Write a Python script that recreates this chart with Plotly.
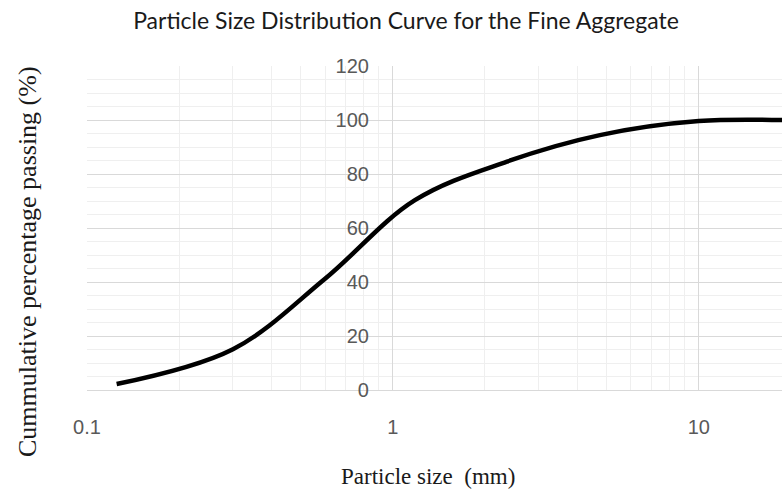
import plotly.graph_objects as go

particle_size_mm = [0.125, 0.3, 0.6, 1.18, 2.36, 4.75, 10.0, 20.0]
percent_passing = [2.2, 15.1, 41.2, 70.3, 84.6, 94.4, 99.6, 99.9]

y_ticks = [0, 20, 40, 60, 80, 100, 120]
x_ticks = [0.1, 1, 10]
x_tick_labels = ["0.1", "1", "10"]

title_text = "Particle Size Distribution Curve for the Fine Aggregate"
x_title = "Particle size  (mm)"
y_title = "Cummulative percentage passing (%)"

W, H = 782, 490
ML, MR, MT, MB = 87, 0, 66, 100
xrange_log = [-1, 1.272]
yaxis_pos = (0 - xrange_log[0]) / (xrange_log[1] - xrange_log[0])

fig = go.Figure()
fig.add_trace(go.Scatter(
    x=particle_size_mm, y=percent_passing, mode="lines",
    line=dict(color="black", width=4.5, shape="spline", smoothing=1.0),
    showlegend=False, hoverinfo="x+y"))

fig.update_layout(
    width=W, height=H,
    margin=dict(l=ML, r=MR, t=MT, b=MB),
    paper_bgcolor="white", plot_bgcolor="white",
    title=dict(text=title_text, x=406 / W, xanchor="center", y=1 - 21 / H, yanchor="middle",
               font=dict(family="Lato, Open Sans, sans-serif", size=23, color="#1a1a1a")),
    xaxis=dict(type="log", range=xrange_log,
               tickvals=x_ticks, ticktext=x_tick_labels,
               tickfont=dict(family="Liberation Sans, Arial, sans-serif", size=20, color="#595959"),
               ticks="outside", ticklen=0, ticklabelstandoff=19,
               showgrid=True, gridcolor="#d9d9d9", gridwidth=1,
               minor=dict(tickvals=[m * 10 ** d for d in (-1, 0, 1) for m in range(2, 10)],
                          showgrid=True, gridcolor="#efefef", gridwidth=1),
               showline=True, linecolor="#d9d9d9", linewidth=1,
               zeroline=False, fixedrange=True),
    yaxis=dict(range=[0, 120], tickvals=y_ticks,
               tickfont=dict(family="Liberation Sans, Arial, sans-serif", size=20, color="#595959"),
               anchor="free", position=yaxis_pos, side="left",
               ticks="outside", ticklen=0, ticklabelstandoff=20,
               showgrid=True, gridcolor="#d9d9d9", gridwidth=1,
               minor=dict(dtick=5, showgrid=True, gridcolor="#efefef", gridwidth=1),
               showline=False, zeroline=False, fixedrange=True),
)

fig.add_annotation(text=x_title, xref="paper", yref="paper", x=(428 - 87) / 695, y=-(476 - 390) / 324,
                   xanchor="center", yanchor="middle", showarrow=False,
                   font=dict(family="Liberation Serif, serif", size=23, color="#1a1a1a"))
fig.add_annotation(text=y_title, xref="paper", yref="paper", x=(27 - 87) / 695, y=(390 - 262) / 324,
                   xanchor="center", yanchor="middle", showarrow=False, textangle=-90,
                   font=dict(family="Liberation Serif, serif", size=26, color="#1a1a1a"))

# remove the default 8px page margin so the 782x490 figure fills the window exactly
fig.write_html("out.html", config={"displayModeBar": False},
               post_script="document.body.style.margin='0';document.body.style.overflow='hidden';")
